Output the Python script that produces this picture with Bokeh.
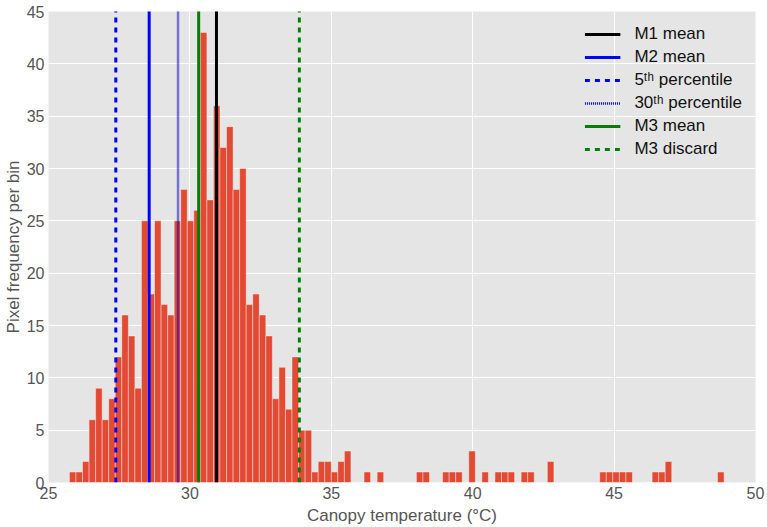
import numpy as np
from bokeh.plotting import figure
from bokeh.models import Range1d, FixedTicker, Legend, LegendItem
from bokeh.embed import file_html
from bokeh.resources import INLINE

# Histogram counts per bin (100 bins)
counts = [1, 1, 2, 6, 9, 6, 8, 12, 16, 14,
          9, 25, 18, 25, 17, 16, 25, 28, 25, 26,
          43, 27, 36, 32, 34, 28, 30, 17, 18, 16,
          14, 8, 11, 7, 12, 5, 5, 1, 2, 2,
          1, 2, 3, 0, 0, 1, 0, 1, 0, 0,
          0, 0, 0, 1, 1, 0, 0, 1, 1, 1,
          0, 3, 0, 1, 0, 1, 1, 1, 0, 1,
          1, 0, 0, 2, 0, 0, 0, 0, 0, 0,
          0, 1, 1, 1, 1, 1, 0, 0, 0, 1,
          1, 2, 0, 0, 0, 0, 0, 0, 0, 1]
t_min = 25.74
t_max = 48.89

# Vertical reference lines
line_labels = ["M1 mean", "M2 mean", "5ᵗʰ percentile", "30ᵗʰ percentile", "M3 mean", "M3 discard"]
line_values = [30.94, 28.56, 27.38, 29.58, 30.31, 33.87]
line_colors = ["#000000", "#0000FF", "#0000FF", "#0000C0", "#008000", "#008000"]
line_dashes = ["solid", "solid", "5 5", "1 1", "solid", "5 5"]
line_widths = [3, 3, 3, 2.5, 3, 3]

x_ticks = [25, 30, 35, 40, 45, 50]
y_ticks = [0, 5, 10, 15, 20, 25, 30, 35, 40, 45]

edges = np.linspace(t_min, t_max, len(counts) + 1)

p = figure(width=767, height=527, output_backend="svg", toolbar_location=None,
           x_range=Range1d(25, 50), y_range=Range1d(0, 45))
p.min_border_top = 11
p.min_border_right = 12
p.min_border_left = 0
p.min_border_bottom = 0
p.background_fill_color = "#E5E5E5"
p.border_fill_color = "white"
p.outline_line_color = None

p.quad(left=edges[:-1], right=edges[1:], bottom=0, top=counts,
       fill_color="#E24A33", line_color="white", line_alpha=0.5, line_width=0.8)

items = []
for lab, v, c, d, w in zip(line_labels, line_values, line_colors, line_dashes, line_widths):
    r = p.ray(x=[v], y=[0], length=0, angle=np.pi / 2, line_color=c,
              line_dash=d, line_width=w)
    items.append(LegendItem(label=lab, renderers=[r]))

legend = Legend(items=items, location="top_right")
legend.background_fill_alpha = 0
legend.border_line_alpha = 0
legend.label_text_font = "Liberation Sans"
legend.label_text_font_size = "17px"
legend.label_text_color = "#111111"
legend.label_standoff = 14
legend.glyph_width = 36
legend.glyph_height = 20
legend.label_height = 20
legend.spacing = 3
legend.padding = 8
legend.margin = 5
p.add_layout(legend)

for g in (p.xgrid, p.ygrid):
    g.grid_line_color = "white"
    g.grid_line_width = 1

p.xaxis.ticker = FixedTicker(ticks=x_ticks)
p.yaxis.ticker = FixedTicker(ticks=y_ticks)
p.xaxis.axis_label = "Canopy temperature (°C)"
p.yaxis.axis_label = "Pixel frequency per bin"
for ax in (p.xaxis, p.yaxis):
    ax.axis_line_color = None
    ax.major_tick_line_color = None
    ax.minor_tick_line_color = None
    ax.major_tick_out = 0
    ax.major_tick_in = 0
    ax.minor_tick_out = 0
    ax.minor_tick_in = 0
    ax.major_label_text_font = "Liberation Sans"
    ax.major_label_text_font_size = "16px"
    ax.major_label_text_color = "#555555"
    ax.axis_label_text_font = "Liberation Sans"
    ax.axis_label_text_font_size = "17px"
    ax.axis_label_text_font_style = "normal"
    ax.axis_label_text_color = "#555555"
    ax.major_label_standoff = 4
p.yaxis.axis_label_standoff = 1
p.xaxis.axis_label_standoff = 4

open("out.html", "w").write(file_html(p, INLINE))
